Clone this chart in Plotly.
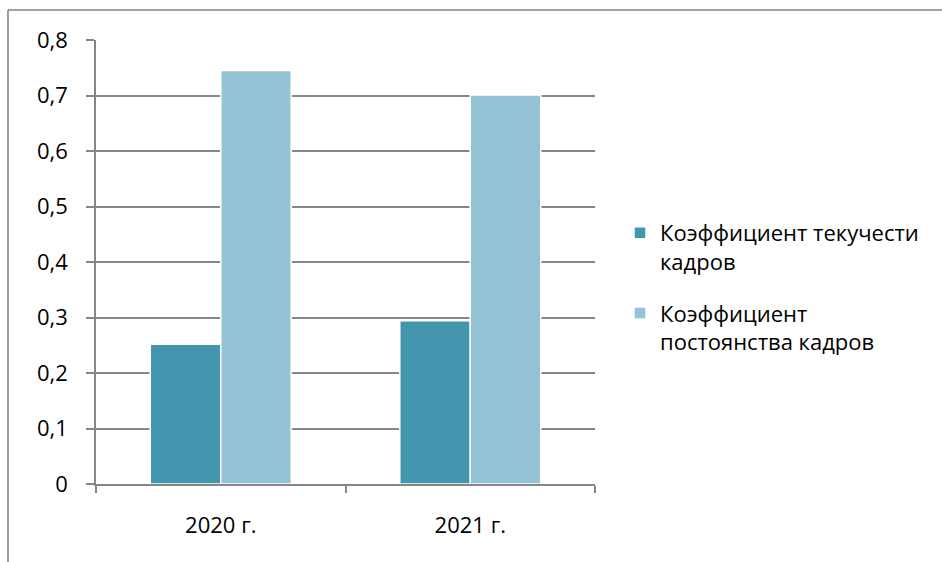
import plotly.graph_objects as go

categories = ["2020 г.", "2021 г."]
turnover = [0.252, 0.294]
constancy = [0.745, 0.701]
series_names = ["Коэффициент текучести<br>кадров", "Коэффициент<br>постоянства кадров"]
y_ticks = [0, 0.1, 0.2, 0.3, 0.4, 0.5, 0.6, 0.7, 0.8]
y_tick_labels = ["0", "0,1", "0,2", "0,3", "0,4", "0,5", "0,6", "0,7", "0,8"]

FONT = "Open Sans"
W, H = 942, 562
L, R, T, B = 96, 347, 40, 78
pw, ph = W - L - R, H - T - B


def px_x(x):
    return (x - L) / pw


def px_y(y):
    return (H - B - y) / ph


fig = go.Figure()
fig.add_trace(go.Bar(x=categories, y=turnover, name=series_names[0], legendgroup="a",
                     marker=dict(color="#4396AE", line=dict(color="white", width=1.5))))
fig.add_trace(go.Bar(x=categories, y=constancy, name=series_names[1], legendgroup="b",
                     marker=dict(color="#93C3D4", line=dict(color="white", width=1.5))))

line_col = "#868686"
fig.update_layout(
    width=W, height=H,
    margin=dict(l=L, r=R, t=T, b=B),
    paper_bgcolor="white", plot_bgcolor="white",
    barmode="group", bargap=0.435, bargroupgap=0,
    font=dict(family=FONT, size=22, color="black"),
    showlegend=True,
    legend=dict(xref="container", yref="container", x=620 / W, y=1 - 212 / H,
                xanchor="left", yanchor="top", valign="top", tracegroupgap=20,
                font=dict(family=FONT, size=22), itemwidth=30),
    xaxis=dict(showline=True, linecolor=line_col, linewidth=1.6, showgrid=False,
               ticks="outside", tickson="boundaries", ticklen=7, tickcolor=line_col,
               tickwidth=1.6, ticklabelstandoff=21),
    yaxis=dict(range=[0, 0.8], tickvals=y_ticks, ticktext=y_tick_labels,
               showline=True, linecolor=line_col, linewidth=1.6,
               showgrid=True, gridcolor=line_col, gridwidth=1.6,
               ticks="outside", ticklen=8, tickcolor=line_col, tickwidth=1.6,
               ticklabelstandoff=14, zeroline=False),
    shapes=[
        dict(type="line", xref="paper", yref="paper", x0=px_x(8), x1=px_x(W + 5),
             y0=px_y(10), y1=px_y(10), line=dict(color=line_col, width=1.6)),
        dict(type="line", xref="paper", yref="paper", x0=px_x(8), x1=px_x(8),
             y0=px_y(10), y1=px_y(H + 5), line=dict(color=line_col, width=1.6)),
    ],
)

fig.write_html("out.html")
